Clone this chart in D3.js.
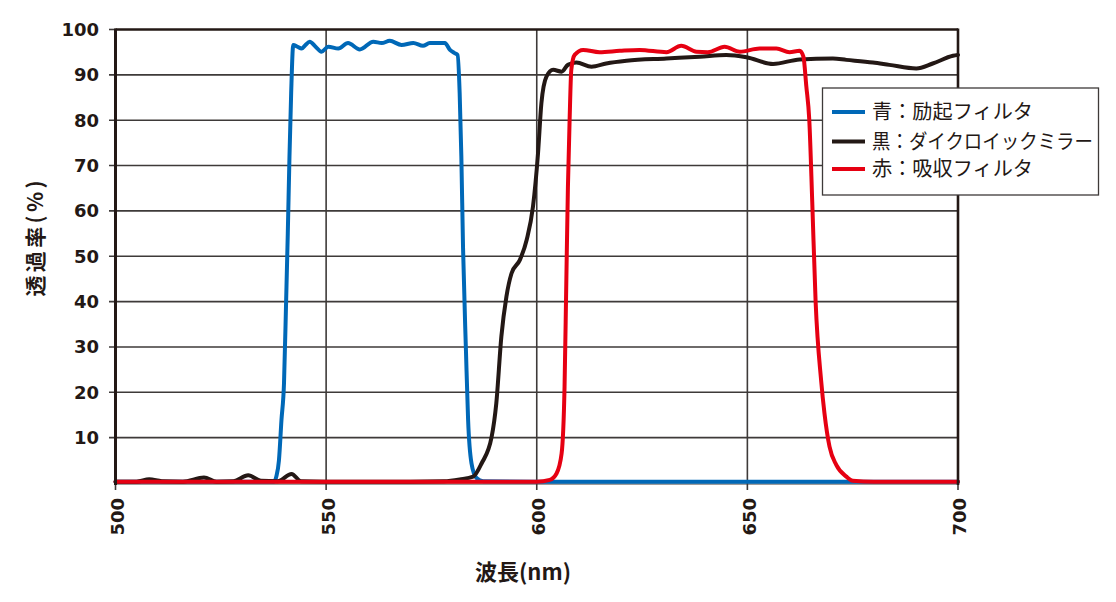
<!DOCTYPE html>
<html><head><meta charset="utf-8">
<script src="https://cdn.jsdelivr.net/npm/d3@7"></script>
<style>body{margin:0;background:#fff}svg{display:block}</style>
</head><body><svg id="c" width="1116" height="602"></svg>
<script>
const xTicks=[500,550,600,650,700];
const yTicks=[10,20,30,40,50,60,70,80,90,100];
const seriesNames=["青：励起フィルタ","黒：ダイクロイックミラー","赤：吸収フィルタ"];
const seriesColors=["#0068b7","#231815","#e60012"];
const blueNm=[500,510,520,530,537.6,538.2,538.8,539.4,540.0,540.5,540.9,541.3,541.7,542.2,543.2,544.2,545.1,546.1,547.5,548.9,550.5,552.9,555.2,558.0,561.2,563.2,565.1,567.9,570.7,573.0,574.6,578.2,579.4,580.5,581.2,581.7,582.1,582.5,583.2,583.7,584.5,585.7,587.3,600,650,700];
const blueT=[0.3,0.3,0.3,0.3,0.3,1.5,5,13.9,22,40,55,72,86,96.6,96.2,95.8,96.6,97.3,96.2,95.1,96.2,95.8,97.0,95.6,97.3,97.0,97.5,96.6,97.0,96.4,97.0,97.0,95.5,94.8,94.4,86,72,52,29,14,4.4,1.1,0.4,0.3,0.3,0.3];
const blackNm=[500,505,508,511,516,521,524,528,531.5,534.5,538.5,541.8,544,550,560,570,578,581.7,584.9,586.9,589.3,590.4,591.6,592.8,594.0,596.0,597.6,599.1,600.3,601.1,602.3,603.9,605.9,607.4,609.4,613.0,616.5,621.3,630.8,638.7,645.0,649.8,656.1,662.4,670.3,673.5,679.8,683.7,690.1,694.0,698.8,700];
const blackT=[0.3,0.3,0.8,0.4,0.3,1.2,0.3,0.4,1.7,0.5,0.4,2.0,0.4,0.3,0.3,0.3,0.4,0.8,1.4,4.3,10.2,17.6,32.3,41.1,46.2,49.2,53.6,60.9,72.7,83.7,89.6,91.1,90.7,92.2,92.7,91.8,92.5,93.1,93.6,94.0,94.4,93.9,92.4,93.4,93.6,93.3,92.7,92.2,91.4,92.5,94.2,94.4];
const redNm=[500,550,600,603.1,604.7,605.9,606.6,607.0,607.4,607.8,608.2,609.0,611.0,614.9,619.7,624.4,630.8,634.3,637.9,640.6,644.6,648.2,652.9,656.9,660.0,662.4,663.3,664.0,664.7,665.4,666.2,667.5,668.3,669.5,671.1,673.5,675,680,700];
const redT=[0.3,0.3,0.3,0.7,2.1,6.5,21.2,43.3,65.3,80,91.1,94.4,95.5,95.0,95.3,95.5,95.0,96.4,95.1,95.0,96.2,95.1,95.8,95.8,95.0,95.3,94.0,87.4,80,62,40,22.7,15.4,8.0,4.0,1.4,0.5,0.3,0.3];

const svg=d3.select("#c");
const x=d3.scaleLinear().domain([500,700]).range([115.5,958]);
const y=d3.scaleLinear().domain([0,100]).range([483,29.5]);
const grid="#3e3a39", ink="#231815";
const numFont="'DejaVu Sans', sans-serif";
const jpFont="'Noto Sans CJK JP', sans-serif";

svg.append("g").selectAll("line").data(yTicks.filter(d=>d<100)).join("line")
 .attr("x1",109).attr("x2",x(700)).attr("y1",d=>y(d)).attr("y2",d=>y(d))
 .attr("stroke",grid).attr("stroke-width",1.6);
svg.append("line").attr("x1",109).attr("x2",x(500)).attr("y1",y(100)).attr("y2",y(100)).attr("stroke",grid).attr("stroke-width",1.6);
svg.append("g").selectAll("line").data(xTicks).join("line")
 .attr("x1",d=>x(d)).attr("x2",d=>x(d)).attr("y1",y(100)).attr("y2",490)
 .attr("stroke",grid).attr("stroke-width",1.6);
svg.append("line").attr("x1",x(500)).attr("x2",x(700)).attr("y1",y(0)+1).attr("y2",y(0)+1).attr("stroke",grid).attr("stroke-width",1.2);

const line=d3.line().x(d=>x(d[0])).y(d=>y(d[1])).curve(d3.curveMonotoneX);
const series=[[blueNm,blueT],[blackNm,blackT],[redNm,redT]];
series.forEach((s,i)=>{
 svg.append("path").datum(s[0].map((v,j)=>[v,s[1][j]]))
  .attr("d",line).attr("fill","none").attr("stroke",seriesColors[i])
  .attr("stroke-width",4).attr("stroke-linejoin","round").attr("stroke-linecap","round");
});

svg.append("line").attr("x1",x(500)).attr("x2",x(500)).attr("y1",y(100)-1).attr("y2",y(0)+2).attr("stroke",ink).attr("stroke-width",3);
svg.append("line").attr("x1",x(500)).attr("x2",x(700)).attr("y1",y(100)).attr("y2",y(100)).attr("stroke",ink).attr("stroke-width",2.6);
svg.append("line").attr("x1",x(700)).attr("x2",x(700)).attr("y1",y(100)-1).attr("y2",y(0)+2).attr("stroke",ink).attr("stroke-width",2.6);

svg.append("g").selectAll("text").data(yTicks).join("text")
 .attr("x",99).attr("y",d=>y(d)).attr("dy","0.36em").attr("text-anchor","end")
 .attr("font-family",numFont).attr("font-weight","bold").attr("font-size",18).attr("fill",ink)
 .text(d=>d);
svg.append("g").selectAll("text").data(xTicks).join("text")
 .attr("transform",d=>`translate(${x(d)+2},498) rotate(-90)`)
 .attr("dy","0.36em").attr("text-anchor","end")
 .attr("font-family",numFont).attr("font-weight","bold").attr("font-size",18).attr("fill",ink)
 .text(d=>d);

svg.append("text").attr("x",523).attr("y",572).attr("dy","0.35em").attr("text-anchor","middle")
 .attr("font-family",jpFont).attr("font-weight","bold").attr("font-size",22).attr("fill",ink).text("波長(nm)");
svg.append("text").attr("transform","translate(36,238.5) rotate(-90)").attr("dy","0.35em").attr("text-anchor","middle")
 .attr("font-family",jpFont).attr("font-weight","bold").attr("font-size",21).attr("fill",ink)
 .attr("textLength",116).attr("lengthAdjust","spacing").text("透過率(%)");

const lg=svg.append("g");
lg.append("rect").attr("x",822.5).attr("y",88).attr("width",276).attr("height",107)
 .attr("fill","#fff").attr("stroke",grid).attr("stroke-width",1.3);
const rows=[112,141.5,169];
const lens=[161,221,161];
seriesNames.forEach((n,i)=>{
 lg.append("line").attr("x1",832).attr("x2",865).attr("y1",rows[i]).attr("y2",rows[i])
  .attr("stroke",seriesColors[i]).attr("stroke-width",4);
 lg.append("text").attr("x",872).attr("y",rows[i]).attr("dy","0.35em")
  .attr("font-family",jpFont).attr("font-size",20).attr("fill",ink)
  .attr("textLength",lens[i]).attr("lengthAdjust","spacingAndGlyphs").text(n);
});
</script></body></html>
